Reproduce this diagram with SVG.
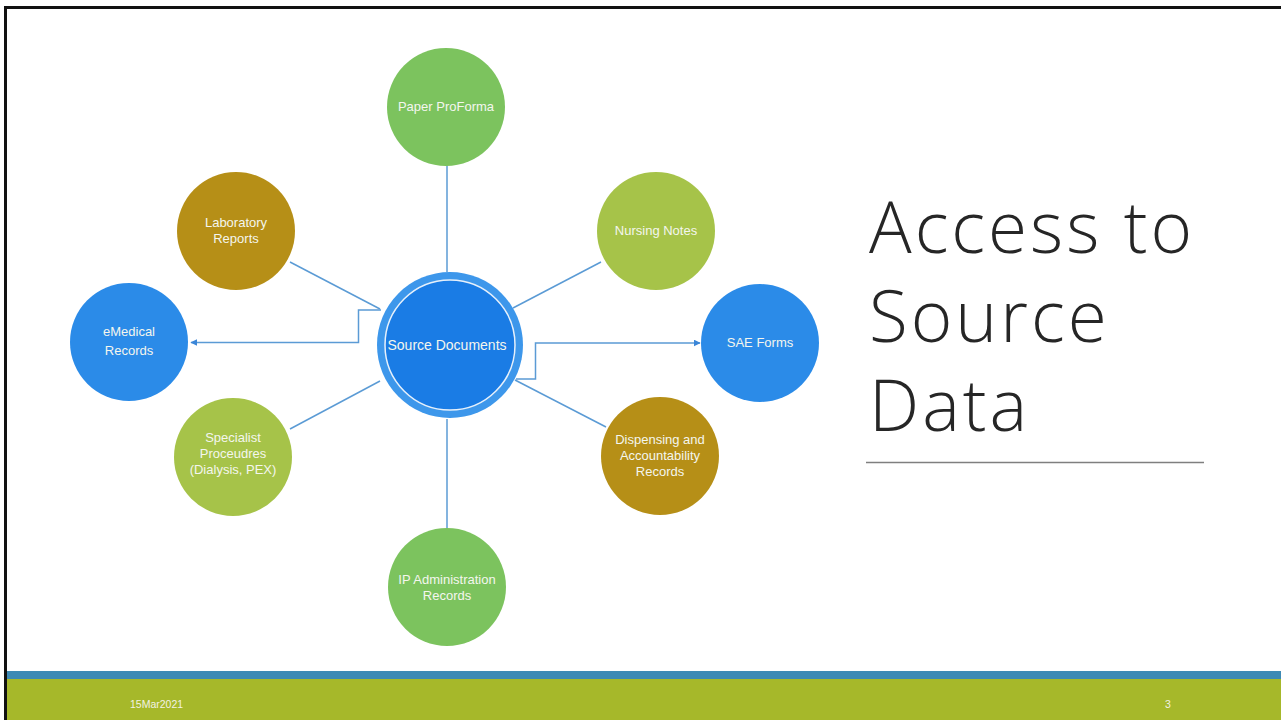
<svg xmlns="http://www.w3.org/2000/svg" width="1281" height="720" viewBox="0 0 1281 720">
<defs>
<style>
.lbl{font-family:"Liberation Sans",Arial,sans-serif;font-size:13px;fill:#f4f6ee;text-anchor:middle}
.con{fill:none;stroke:#5b9bd5;stroke-width:1.5}
.g1{fill:#7cc35e}.g2{fill:#a6c349}.gd{fill:#b68f17}.bl{fill:#2b8be8}
.title{font-family:"Open Sans","Liberation Sans",sans-serif;font-weight:300;font-size:71px;letter-spacing:3px;fill:#262626}
.foot{font-family:"Liberation Sans",Arial,sans-serif;font-size:10.5px;fill:#f2f2e4}
</style>
<marker id="arr" viewBox="0 0 10 10" refX="9" refY="5" markerWidth="7" markerHeight="7" markerUnits="userSpaceOnUse" orient="auto">
<path d="M0,0 L10,5 L0,10 z" fill="#3b86d8"/>
</marker>
</defs>
<rect width="1281" height="720" fill="#ffffff"/>
<!-- border -->
<path d="M5.5,720 V7.5 H1281" fill="none" stroke="#111" stroke-width="3"/>
<!-- footer bars -->
<rect x="7" y="671" width="1274" height="8" fill="#3e8ab5"/>
<rect x="7" y="679" width="1274" height="41" fill="#a6b82a"/>
<text class="foot" x="130" y="708">15Mar2021</text>
<text class="foot" x="1165" y="708">3</text>

<g id="connectors">
<line class="con" x1="447" y1="164" x2="447" y2="272"/>
<line class="con" x1="447" y1="419" x2="447" y2="529"/>
<line class="con" x1="290" y1="262" x2="380" y2="309"/>
<line class="con" x1="601" y1="262" x2="513" y2="308"/>
<line class="con" x1="290" y1="429" x2="380" y2="381"/>
<line class="con" x1="606" y1="427" x2="515" y2="380"/>
<path class="con" d="M381,310 H358.5 V342.5 H191" marker-end="url(#arr)"/>
<path class="con" d="M516,379 H535.5 V343 H700" marker-end="url(#arr)"/>
</g>

<g id="node-source">
<circle cx="450" cy="345" r="73" fill="#3d97eb"/>
<circle cx="450" cy="345" r="65" fill="#1a7ce5" stroke="#e6f0fb" stroke-width="1.5"/>
<text class="lbl" x="447" y="350" style="font-size:14px">Source Documents</text>
</g>
<g id="node-paper">
<circle class="g1" cx="446" cy="107" r="59"/>
<text class="lbl" x="446" y="111">Paper ProForma</text>
</g>
<g id="node-lab">
<circle class="gd" cx="236" cy="231" r="59"/>
<text class="lbl" x="236" y="227">Laboratory</text>
<text class="lbl" x="236" y="243">Reports</text>
</g>
<g id="node-nursing">
<circle class="g2" cx="656" cy="231" r="59"/>
<text class="lbl" x="656" y="235">Nursing Notes</text>
</g>
<g id="node-emedical">
<circle class="bl" cx="129" cy="342" r="59"/>
<text class="lbl" x="129" y="336">eMedical</text>
<text class="lbl" x="129" y="355">Records</text>
</g>
<g id="node-sae">
<circle class="bl" cx="760" cy="343" r="59"/>
<text class="lbl" x="760" y="347">SAE Forms</text>
</g>
<g id="node-specialist">
<circle class="g2" cx="233" cy="457" r="59"/>
<text class="lbl" x="233" y="442">Specialist</text>
<text class="lbl" x="233" y="458">Proceudres</text>
<text class="lbl" x="233" y="474">(Dialysis, PEX)</text>
</g>
<g id="node-dispensing">
<circle class="gd" cx="660" cy="456" r="59"/>
<text class="lbl" x="660" y="444">Dispensing and</text>
<text class="lbl" x="660" y="460">Accountability</text>
<text class="lbl" x="660" y="476">Records</text>
</g>
<g id="node-ip">
<circle class="g1" cx="447" cy="587" r="59"/>
<text class="lbl" x="447" y="584">IP Administration</text>
<text class="lbl" x="447" y="600">Records</text>
</g>

<g id="title">
<text class="title" x="869" y="253">Access to</text>
<text class="title" x="869" y="342">Source</text>
<text class="title" x="869" y="431">Data</text>
<line x1="866" y1="462.5" x2="1204" y2="462.5" stroke="#7f7f7f" stroke-width="1.5"/>
</g>
</svg>
